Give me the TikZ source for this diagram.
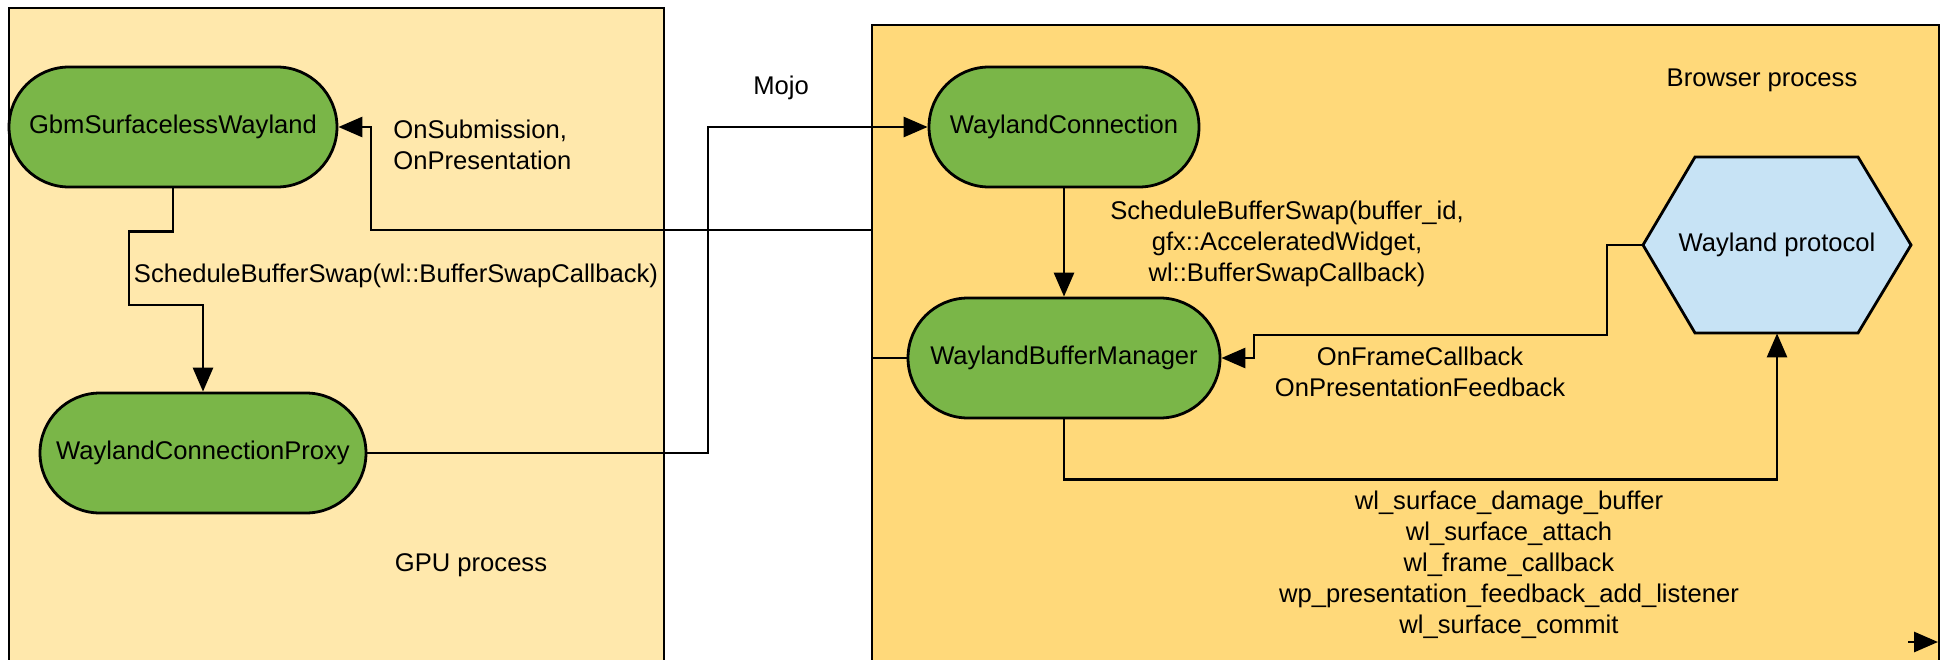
\documentclass[tikz,border=0pt]{standalone}
\usepackage{fontspec}
\setmainfont{Liberation Sans}
\usetikzlibrary{arrows.meta}
\definecolor{gpufill}{HTML}{FFE8AC}
\definecolor{brfill}{HTML}{FFD97A}
\definecolor{nodegreen}{HTML}{7AB648}
\definecolor{protoblue}{HTML}{C7E3F5}
\tikzset{
  proc/.style={draw=black, line width=1.4pt, fill=nodegreen, rounded corners=30pt,
    minimum height=60pt, inner sep=0pt, font=\fontsize{12.8}{15.5}\selectfont},
  lbl/.style={inner sep=0pt, font=\fontsize{12.8}{15.5}\selectfont, align=center},
  conn/.style={draw=black, line width=1.4pt},
  arr/.style={conn, -{Triangle[length=12pt,width=10pt]}},
  boxline/.style={draw=black, line width=1.4pt}
}
\begin{document}
\begin{tikzpicture}[x=0.5pt,y=-0.5pt]
\clip (0,0) rectangle (1947,659);
\fill[white] (0,0) rectangle (1947,659);
% process boxes
\fill[gpufill] (9,8) rectangle (664,670);
\draw[boxline] (9,670) -- (9,8) -- (664,8) -- (664,670);
\fill[brfill] (872,25) rectangle (1939,670);
\draw[boxline] (872,670) -- (872,25) -- (1939,25) -- (1939,670);
% hexagon
\draw[boxline, fill=protoblue] (1643,245) -- (1695,157) -- (1858,157) -- (1911,245) -- (1858,333) -- (1695,333) -- cycle;
% nodes
\node[proc, minimum width=164pt] (gbm) at (173,127) {GbmSurfacelessWayland};
\node[proc, minimum width=163pt] (proxy) at (203,453) {WaylandConnectionProxy};
\node[proc, minimum width=135pt] (wc) at (1064,127) {WaylandConnection};
\node[proc, minimum width=156pt] (wbm) at (1064,358) {WaylandBufferManager};
\node[lbl, minimum width=134pt, minimum height=88pt] (wp) at (1777,245) {Wayland protocol};
% labels
\node[lbl] (gpulbl) at (471,565) {GPU process};
\node[lbl] (brlbl) at (1762,80) {Browser process};
\node[lbl] (mojo) at (781,88) {Mojo};
\node[lbl, anchor=west, align=left] (onsub) at (393,145) {OnSubmission,\\OnPresentation};
\node[lbl] (sbs1) at (396,276) {ScheduleBufferSwap(wl::BufferSwapCallback)};
\node[lbl] (sbs2) at (1287,244) {ScheduleBufferSwap(buffer\_id,\\gfx::AcceleratedWidget,\\wl::BufferSwapCallback)};
\node[lbl] (onframe) at (1420,372) {OnFrameCallback\\OnPresentationFeedback};
\node[lbl] (wlcalls) at (1509,565) {wl\_surface\_damage\_buffer\\wl\_surface\_attach\\wl\_frame\_callback\\wp\_presentation\_feedback\_add\_listener\\wl\_surface\_commit};
% connectors
\draw[arr] (gbm.south) -- ++(0,43) -| (129,305) -| (proxy.north);
\draw[arr] (wbm.west) -| (872,230) -- (371,230) |- (gbm.east);
\draw[arr] (proxy.east) -| (708,300) |- (wc.west);
\draw[arr] (wc.south) -- (wbm.north);
\draw[arr] (wp.west) -| (1607,335) -| (1254,350) |- (wbm.east);
\draw[arr] (wbm.south) -- ++(0,60) -| (wp.south);
\coordinate (se) at (1908,642);
\coordinate (sb) at (1938,642);
\draw[arr] (se) -- (sb);
\end{tikzpicture}
\end{document}
